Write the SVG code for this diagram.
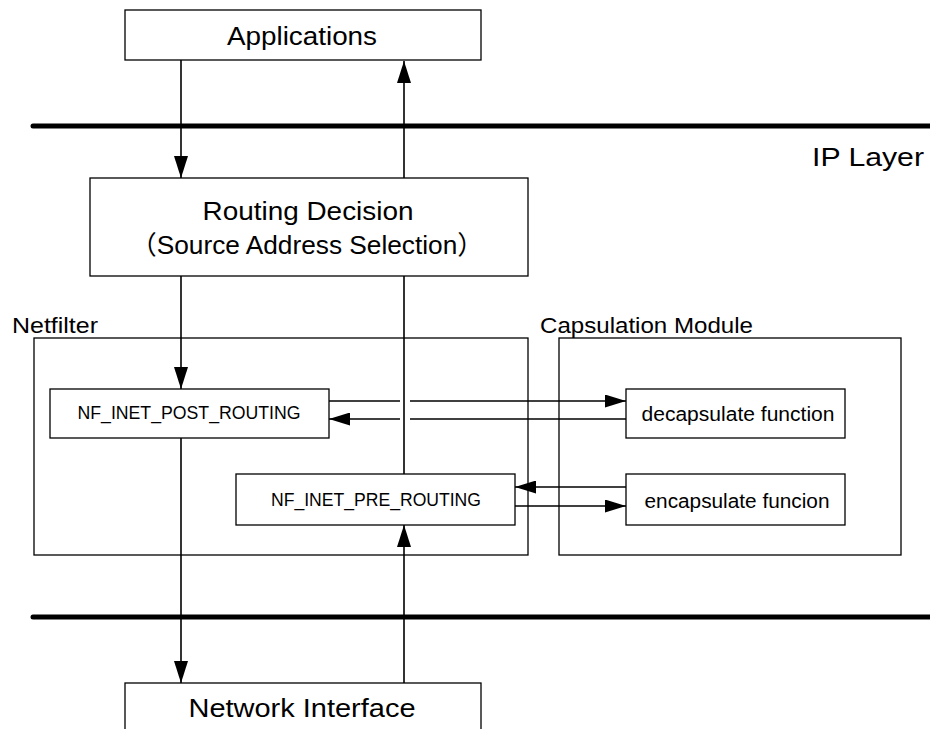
<svg xmlns="http://www.w3.org/2000/svg" width="930" height="729" viewBox="0 0 930 729">
  <style>
    .box { fill: #fff; stroke: #000; stroke-width: 1.3; }
    .frame { fill: none; stroke: #000; stroke-width: 1.3; }
    .layer { stroke: #000; stroke-width: 5; stroke-linecap: round; }
    .conn { fill: none; stroke: #000; stroke-width: 1.6; }
    .arrow { marker-end: url(#head); }
    .harrow { marker-end: url(#hhead); }
    text { font-family: "Liberation Sans", "Noto Sans CJK JP", sans-serif; fill: #000; }
    .big { font-size: 26px; text-anchor: middle; }
    .mid { font-size: 22px; }
    .hook { font-size: 18px; text-anchor: middle; }
    .fn { font-size: 20px; text-anchor: middle; }
  </style>
  <defs>
    <marker id="head" viewBox="0 0 22 14" refX="22" refY="7" markerWidth="22" markerHeight="14" markerUnits="userSpaceOnUse" orient="auto">
      <polygon points="0,0 22,7 0,14" fill="#000"/>
    </marker>
    <marker id="hhead" viewBox="0 0 21 13" refX="21" refY="6.5" markerWidth="21" markerHeight="13" markerUnits="userSpaceOnUse" orient="auto">
      <polygon points="0,0 21,6.5 0,13" fill="#000"/>
    </marker>
  </defs>

  <!-- layer boundaries -->
  <g id="layers">
    <line class="layer" x1="33" y1="126" x2="932" y2="126"/>
    <line class="layer" x1="33" y1="617" x2="932" y2="617"/>
    <text x="924" y="166" text-anchor="end" textLength="112" lengthAdjust="spacingAndGlyphs" style="font-size:25px">IP Layer</text>
  </g>

  <!-- container frames -->
  <g id="netfilter">
    <rect class="frame" x="34" y="338" width="494" height="217"/>
    <text class="mid" x="12" y="333" textLength="86" lengthAdjust="spacingAndGlyphs">Netfilter</text>
  </g>
  <g id="capsulation-module">
    <rect class="frame" x="559" y="338" width="342" height="217"/>
    <text class="mid" x="540" y="333" textLength="213" lengthAdjust="spacingAndGlyphs">Capsulation Module</text>
  </g>

  <!-- connectors -->
  <g id="connectors">
    <line class="conn arrow" x1="181" y1="60" x2="181" y2="178"/>
    <line class="conn arrow" x1="404" y1="178" x2="404" y2="61"/>
    <line class="conn arrow" x1="181" y1="276" x2="181" y2="389"/>
    <line class="conn" x1="404" y1="474" x2="404" y2="276"/>
    <line class="conn arrow" x1="181" y1="438" x2="181" y2="683"/>
    <line class="conn arrow" x1="404" y1="683" x2="404" y2="525"/>
    <line class="conn" x1="329" y1="401" x2="400" y2="401"/>
    <line class="conn harrow" x1="410" y1="401" x2="626" y2="401"/>
    <line class="conn" x1="626" y1="419" x2="410" y2="419"/>
    <line class="conn harrow" x1="400" y1="419" x2="329" y2="419"/>
    <line class="conn harrow" x1="626" y1="487" x2="515" y2="487"/>
    <line class="conn harrow" x1="515" y1="506" x2="626" y2="506"/>
  </g>

  <g id="applications">
    <rect class="box" x="125" y="10" width="356" height="50"/>
    <text class="big" x="302" y="45" textLength="150" lengthAdjust="spacingAndGlyphs">Applications</text>
  </g>

  <g id="routing-decision">
    <rect class="box" x="90" y="178" width="438" height="98"/>
    <text class="big" x="308" y="220" textLength="211" lengthAdjust="spacingAndGlyphs">Routing Decision</text>
    <text class="big" x="307" y="254" textLength="353" lengthAdjust="spacingAndGlyphs">（Source Address Selection）</text>
  </g>

  <g id="nf-inet-post-routing">
    <rect class="box" x="50" y="389" width="279" height="49"/>
    <text class="hook" x="189" y="419" textLength="223" lengthAdjust="spacingAndGlyphs">NF_INET_POST_ROUTING</text>
  </g>

  <g id="nf-inet-pre-routing">
    <rect class="box" x="236" y="474" width="279" height="51"/>
    <text class="hook" x="376" y="506" textLength="210" lengthAdjust="spacingAndGlyphs">NF_INET_PRE_ROUTING</text>
  </g>

  <g id="decapsulate-function">
    <rect class="box" x="626" y="389" width="219" height="49"/>
    <text class="fn" x="738" y="421" textLength="193" lengthAdjust="spacingAndGlyphs">decapsulate function</text>
  </g>

  <g id="encapsulate-function">
    <rect class="box" x="626" y="474" width="219" height="51"/>
    <text class="fn" x="737" y="508" textLength="185" lengthAdjust="spacingAndGlyphs">encapsulate funcion</text>
  </g>

  <g id="network-interface">
    <rect class="box" x="125" y="683" width="356" height="60"/>
    <text class="big" x="302" y="717" textLength="227" lengthAdjust="spacingAndGlyphs">Network Interface</text>
  </g>
</svg>
